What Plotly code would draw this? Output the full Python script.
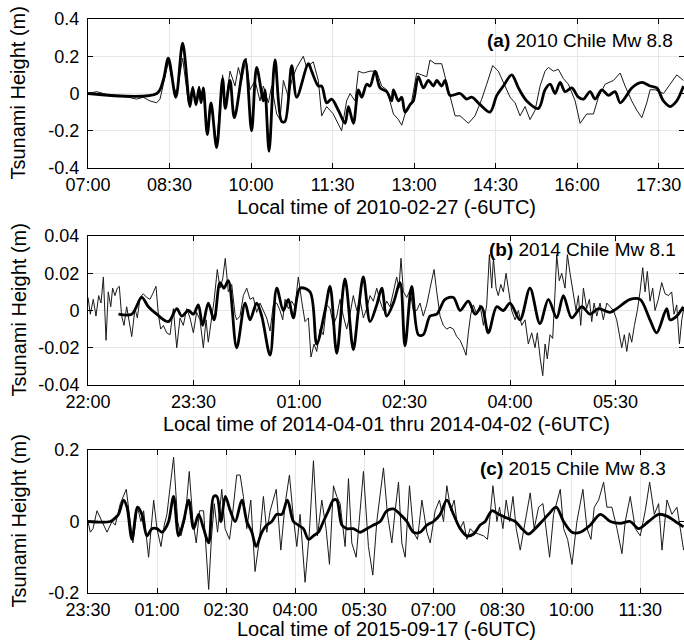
import pandas as pd
import plotly.graph_objects as go

# ---------------- data (minutes after start, height in m) ----------------
a_start = "2010-02-27 07:00"
a_thin_min = [0, 9.6, 16.9, 24.3, 35.3, 46.4, 53.7, 61.1, 68.5, 75.8, 79.5, 83.2, 88.7, 94.2, 97.9, 104.5, 110.8,
              115.6, 119.3, 122.6, 124.8, 127.3, 131.7, 135.8, 142, 148.6, 151.6, 156.8, 162.3, 166, 169.7, 174.5,
              178.9, 184.4, 189.9, 193.6, 199.1, 202.8, 208.3, 212, 215.7, 221.2, 224.9, 230.4, 237.7, 241.4, 248.7,
              254.3, 258, 263.5, 270.8, 280, 285.5, 289.3, 294.8, 298.5, 304, 311.4, 318.7, 324.2, 329.8, 337.2,
              342.7, 346.4, 350, 357.4, 362.9, 368.4, 373.9, 377.6, 383.1, 390.5, 394.2, 399.7, 405.3, 410.8, 420,
              427.3, 434.7, 440.2, 446.8, 453, 460.4, 466, 471.5, 477, 482.5, 488, 493.6, 499.1, 504.6, 508.3, 513.8,
              519.3, 524.8, 530.4, 537.8, 543.3, 550.6, 558, 563.5, 570.9, 580.1, 587.5, 593, 600.3, 605.9, 611.4,
              616.9, 620.6, 626.1, 635.3, 642.7, 650, 657.4]
a_thin_val = [0, 0.01, 0.0, -0.01, -0.01, -0.02, -0.03, -0.02, -0.04, -0.05, -0.03, 0.05, 0.17, 0.04, 0.0, 0.19, -0.05,
              0.04, -0.05, 0.04, -0.04, 0.02, -0.2, -0.06, -0.27, 0.1, -0.06, 0.12, 0.04, 0.14, 0.07, 0.19,
              0.02, 0.07, -0.04, 0.04, -0.05, 0.04, -0.11, -0.14, 0.07, -0.02, 0.07, 0.14, 0.2, 0.14, 0.17,
              0.07, -0.12, -0.07, -0.11, -0.2, -0.04, 0.0, -0.04, 0.12, 0.11, 0.12, 0.12, 0.04, 0.02, -0.11,
              -0.14, -0.17, -0.11, -0.04, 0.11, 0.1, 0.09, 0.18, 0.16, 0.16, 0.09, -0.03, -0.12, -0.12, -0.16,
              -0.12, -0.03, 0.05, 0.15, 0.12, 0.04, -0.02, -0.05, -0.12, -0.07, -0.14, -0.09, 0.04, 0.12, 0.14, 0.12,
              0.13, 0.08, 0.05, -0.04, -0.16, -0.11, -0.11, -0.02, 0.05, 0.07, 0.11, 0.04, -0.04, -0.09, -0.13,
              -0.05, 0.02, 0.02, 0.0, 0.05, 0.1, 0.07]
a_thick_min = [0, 76, 83, 88.7, 97, 104.5, 112.6, 115.6, 119.3, 122.6, 124.8, 127.3, 131.7, 135.8, 142, 148.6, 151.6,
               156.8, 161.6, 173.4, 180.6, 186.2, 193.6, 195.4, 199.9, 206.5, 213.8, 217.5, 224.9, 230.4, 243.3,
               246.9, 254.3, 258, 263.5, 269, 276.4, 283.8, 287.5, 293, 298.5, 302.2, 307.7, 311.4, 316.9, 322.4,
               329.8, 335.3, 337.2, 342.7, 346.4, 350, 355.6, 359.2, 364.7, 370.2, 375.8, 381.3, 385, 390.5, 394.2,
               399.7, 410.8, 418.1, 423.6, 432.9, 443.9, 451.3, 458.6, 467.8, 475.2, 484.4, 497.3, 504.6, 510.2,
               515.7, 521.2, 526.7, 534.1, 541.4, 547, 554.3, 559.9, 567.2, 574.6, 581.9, 587.5, 594.8, 600.3, 611.4,
               620.6, 628, 635.3, 642.7, 650, 657.4]
a_thick_val = [0, 0, 0.07, 0.19, -0.02, 0.27, -0.07, 0.03, -0.06, 0.03, -0.05, 0.03, -0.22, -0.05, -0.29, 0.08, -0.08,
               0.07, -0.13, 0.18, -0.2, 0.14, -0.04, 0.02, -0.31, 0.18, -0.15, -0.15, 0.15, -0.02, 0.16,
               0.12, 0.04, 0.04, -0.05, -0.03, -0.09, -0.16, -0.07, -0.16, 0.02, -0.02, 0.05, 0.04, 0.12, 0.03,
               0.01, -0.04, 0.02, -0.04, -0.02, -0.1, -0.06, -0.04, 0.09, 0.03, 0.07, 0.04, 0.07, 0.04, 0.07,
               -0.01, 0.0, -0.03, -0.02, -0.06, -0.1, -0.01, 0.04, 0.1, 0.03, -0.04, -0.08, 0.02, 0.05,
               0.0, 0.06, 0.01, 0.03, -0.02, -0.03, 0.01, -0.03, 0.02, -0.01, 0.01, -0.05, -0.01, 0.03, 0.06,
               0.04, 0.03, -0.04, -0.07, -0.04, 0.04]

b_start = "2014-04-01 22:00"
b_thin_min = [0, 2, 4.5, 6.8, 9.1, 11.1, 13.1, 15.4, 17.3, 19.4, 21, 23, 25, 26.7, 28.7, 30.7, 33, 35.3, 37.3, 40.1,
              42.1, 44.4, 47.2, 50.1, 52.9, 55.2, 58, 60, 62, 64.3, 67.1, 70, 72.8, 75.7, 78.5, 81.3, 84.2, 87, 89.9,
              92.7, 95.5, 98.4, 100.7, 102.6, 105.5, 107.5, 110.3, 112.6, 114.9, 117.1, 119.7, 122.6, 125.4, 126.8,
              129.7, 132.5, 135.4, 138.2, 141, 143.9, 146.7, 149.6, 152.4, 155.3, 158.1, 161, 163.8, 166.1, 168.1,
              170.9, 173.8, 176.6, 179.4, 182.3, 185.1, 188, 190.2, 192.8, 195.1, 197.9, 200.7, 203.6, 206.5, 209.3,
              212.2, 215, 217.8, 220.7, 223.5, 226.3, 229.2, 232, 234.9, 237.7, 240.6, 243.4, 246.3, 249.1, 252,
              254.8, 257.6, 260.5, 263.3, 265.3, 267, 269, 271.9, 274.7, 277.5, 280.4, 283.2, 286, 288.9, 291.8,
              295.2, 297.5, 300.3, 303.1, 306, 308.8, 311.7, 314.5, 317.4, 320.2, 322.5, 324.4, 326.5, 328.7, 331.6,
              334.4, 337.3, 340.1, 342.4, 344.4, 345.8, 348.1, 350, 352.1, 354.3, 356.6, 358.9, 361.4, 364.3, 367.1,
              370, 372.8, 375.6, 378.5, 381.3, 383.3, 385.6, 387.9, 389.9, 391.8, 394.1, 396.4, 398.4, 399.8, 402,
              404.1, 406.9, 408.9, 411.2, 414, 416.3, 418.3, 420.3, 422.6, 425.4, 427.7, 429.7, 431.7, 434, 436.8,
              439.6, 442.5, 445.3, 448.2, 451, 453.3, 455.3, 457.5, 459.6, 461.8, 463.8, 466.1, 468.6, 470.9, 473.2,
              475.2, 477.1, 479.4, 481.7, 483.7, 486.5, 489.4, 492.2, 495.1, 497.9, 499.9, 502.2, 504.5, 506.5, 508.4]
b_thin_val = [0.007, -0.002, 0.006, -0.003, 0.008, 0.004, 0.018, -0.016, 0.01, 0.002, 0.012, 0.008, 0.012, 0.013,
              -0.003, -0.008, 0.002, -0.008, -0.014, 0.001, -0.004, 0.007, 0.009, 0.007, 0.006, 0.009, 0.013, -0.002,
              -0.01, -0.008, -0.012, -0.013, 0.001, -0.02, -0.004, -0.008, 0.001, -0.004, -0.012, -0.001, -0.005,
              -0.02, -0.005, -0.017, -0.005, 0.005, 0.022, 0.012, 0.017, 0.028, 0.01, 0.014, -0.002, -0.005,
              -0.003, 0.008, 0.012, 0.006, 0.007, -0.001, 0.004, 0.0, -0.004, -0.011, 0.003, 0.004, 0.0, -0.005, 0.006,
              0.001, 0.005, 0.002, 0.018, 0.005, -0.006, -0.004, -0.025, -0.018, -0.022, -0.01, -0.013, 0.003, 0.001,
              -0.008, -0.003, 0.006, -0.003, -0.01, -0.002, 0.008, 0.0, 0.006, -0.004, 0.001, 0.008, 0.005, 0.012,
              0.005, 0.0, 0.005, 0.002, 0.01, 0.018, 0.012, 0.028, 0.01, 0.007, 0.011, 0.0, 0.0, 0.004, -0.003, 0.003,
              0.012, 0.022, 0.01, -0.003, -0.008, -0.01, -0.009, -0.01, -0.014, -0.016, -0.02, -0.024, -0.012,
              -0.002, 0.003, -0.002, 0.003, -0.008, 0.003, 0.03, 0.012, 0.028, 0.012, 0.008, 0.014, 0.01, 0.02, 0.01,
              0.0, -0.005, 0.0, -0.008, -0.005, -0.018, -0.012, -0.02, -0.012, -0.025, -0.035, -0.018, -0.026,
              -0.013, -0.015, 0.01, 0.03, 0.016, 0.02, 0.012, 0.03, 0.02, 0.01, 0.0, 0.008, -0.008, 0.012, 0.001,
              0.006, -0.006, 0.004, -0.003, 0.004, -0.005, 0.004, 0.002, 0.0, -0.005, -0.012, -0.02, -0.013, -0.022,
              -0.012, -0.017, -0.008, 0.0, 0.01, 0.023, 0.01, 0.021, 0.005, 0.012, 0.0, 0.006, 0.015, 0.009, 0.008,
              0.01, -0.002, 0.003, -0.018, -0.005, 0.002]
b_thick_min = [26, 37.3, 45.8, 51.5, 58.6, 68.5, 75.7, 79.9, 85.6, 89.9, 94.1, 97.8, 102.6, 107.5, 112.6, 116,
               119.7, 126.8, 134, 138.2, 143.9, 148.2, 155.3, 161, 166.6, 170.9, 175.1, 180.9, 189.4, 195.1, 202.2,
               206.5, 212.2, 219.2, 226.3, 230.6, 234.9, 240.6, 246.3, 250.6, 254.8, 260.5, 266.2, 270.4, 276.1,
               281.8, 286, 291.8, 297.5, 304.6, 311.7, 317.4, 324.4, 330.2, 335.8, 341.5, 348.6, 354.3, 360, 368.5,
               377, 385.5, 392.7, 399.8, 405.5, 412.6, 421.2, 428.3, 435.4, 445.3, 451, 462.4, 470.9, 479.4, 485.1,
               493.6, 496.5, 502.2, 507.8]
b_thick_val = [-0.002, -0.002, 0.007, 0.002, -0.002, -0.006, 0.001, -0.003, 0.0, -0.002, 0.003, -0.008, 0.004,
               -0.005, 0.015, 0.012, 0.016, -0.02, 0.004, -0.005, 0.004, -0.003, -0.024, 0.012, 0.0, 0.006, -0.004,
               0.012, 0.01, -0.018, 0.0, 0.013, -0.023, 0.017, -0.021, 0.0, 0.018, -0.006, 0.003, 0.012, -0.003,
               0.004, 0.015, -0.019, 0.013, -0.013, -0.013, -0.003, -0.002, 0.006, 0.007, 0.0, 0.005, -0.002, 0.002,
               -0.012, 0.002, 0.0, 0.004, -0.005, 0.012, -0.007, 0.006, -0.004, 0.008, -0.004, 0.002, -0.002, 0.001,
               -0.001, 0.001, 0.006, 0.006, -0.005, -0.012, 0.001, -0.005, -0.003, 0.002]

c_start = "2015-09-16 23:30"
c_thin_min = [0, 3, 6.5, 11.7, 18.3, 24.8, 31.3, 35.5, 42.1, 49.9, 55.1, 58.6, 64.6, 69, 72.5, 79, 85.6, 89.9, 95.1,
              99.4, 102.9, 106.3, 111.6, 116.9, 121.2, 126.8, 132, 136.8, 141.1, 145.4, 150.7, 157.3, 160.8, 164.6,
              168.9, 174.4, 178.7, 184.5, 187.4, 193.9, 198.3, 202.6, 207, 212.2, 217.8, 223.5, 228.7, 233.1, 237.5,
              245.4, 251.4, 257, 262.6, 267.8, 272.2, 276.5, 283, 288.6, 293.9, 299.2, 304.8, 310.4, 314.8, 320,
              324.3, 328.7, 335.2, 339.6, 343.9, 349.6, 354.8, 359.1, 365.6, 371.3, 376.5, 385.2, 390.4, 396.1,
              400.4, 404.8, 409.1, 413.5, 419.1, 424.3, 429.6, 435.3, 441.8, 446.1, 452.6, 458.2, 463.5, 467.8,
              473.1, 477.4, 480.9, 485.2, 489.6, 493.9, 498.3, 502.6, 509.1, 515.6, 520.8, 523.5, 527.9, 533.1,
              536.5, 540.9, 545.2, 549.6, 554, 558.3, 563.5, 570, 576.5, 581.7, 587.4, 593.1, 598.3, 601.8, 607,
              611.4, 615.7, 620.1, 625.3, 631, 637.4, 645.2, 650.5, 655.7, 660, 665.7, 672.2, 676.5, 683, 689.6,
              696.1, 700.4, 706.9, 713.5, 720, 726.5, 732.2, 738.3, 743.9, 748.3, 754.8, 761.3, 767.8, 772.2, 776.5]
c_thin_val = [0.0, -0.03, -0.02, 0.03, 0.0, -0.03, 0.0, -0.01, 0.05, 0.09, 0.0, -0.06, 0.04, 0.0, 0.03, -0.1, 0.06,
              -0.02, -0.07, -0.01, 0.02, 0.08, 0.18, 0.0, -0.04, 0.01, 0.14, 0.0, -0.06, 0.03, 0.03, -0.19, -0.05,
              0.05, -0.03, 0.09, -0.02, -0.05, 0.0, 0.13, 0.13, 0.07, -0.02, 0.06, -0.14, -0.05, 0.07, -0.03, 0.03,
              0.09, -0.08, 0.05, 0.13, 0.01, -0.07, 0.02, -0.17, -0.03, 0.17, -0.04, 0.06, -0.02, -0.12, 0.1,
              0.07, 0.05, -0.07, 0.12, -0.06, -0.1, 0.04, 0.14, -0.07, -0.15, 0.0, 0.15, 0.02, -0.06,
              0.03, 0.11, -0.06, -0.1, 0.1, -0.03, -0.05, 0.06, -0.03, -0.06, 0.03, 0.06, 0.0, 0.1,
              0.03, 0.06, 0.0, -0.02, 0.0, -0.05, -0.02, -0.03, -0.035, -0.04, -0.05, 0.0, 0.1, 0.0,
              0.04, -0.02, 0.06, 0.0, 0.07, -0.02, -0.08, 0.0, 0.08, -0.02, 0.04, 0.05, -0.04, -0.1, 0.02,
              0.06, 0.09, -0.02, -0.05, -0.12, 0.0, 0.09, -0.02, -0.05, 0.04, 0.06, 0.11, 0.04, 0.04, -0.02,
              -0.09, 0.0, 0.07, -0.02, -0.04, 0.03, 0.11, 0.02, 0.05, -0.08, 0.06, 0.02, 0.04, -0.02, -0.08]
c_thick_min = [0, 29, 35.5, 39.8, 46.4, 50.8, 57.3, 64.6, 70.3, 76.8, 83.3, 89.9, 96.4, 100.7, 105.1, 111.6, 118.1,
               124.6, 131.2, 137.7, 144.2, 150.7, 157.3, 163.8, 168.1, 173.3, 179, 185.5, 192, 200.6, 207.1, 213.6,
               219.2, 226.6, 233.1, 239.6, 246.1, 252.7, 260, 267.8, 274.3, 280.8, 287.4, 293.9, 300.4, 306.9, 313.4,
               320, 324.3, 330.9, 337.4, 346, 354.8, 363.5, 372.2, 380.9, 389.6, 398.2, 407, 415.7, 424.3, 433,
               441.8, 450.4, 459.1, 467.8, 476.5, 485.2, 493.9, 502.6, 511.3, 517.8, 526.5, 535.2, 546.1, 557, 565.6,
               574.3, 583, 591.8, 600.4, 610.4, 620, 630.9, 641.7, 654.8, 667.8, 680.9, 693.9, 706.9, 717.8, 730.8,
               743.9, 754.8, 765.7, 776.5]
c_thick_val = [0.0, 0.0, 0.01, 0.02, 0.06, 0.04, -0.05, 0.04, 0.02, -0.04, -0.02, -0.02, -0.03, -0.02, 0.0, 0.07,
               -0.04, 0.0, 0.06, -0.02, 0.02, -0.02, -0.06, 0.07, 0.07, 0.0, 0.07, 0.03, 0.0, 0.06, 0.0, -0.03,
               -0.07, -0.03, -0.01, 0.0, 0.02, 0.02, 0.06, 0.0, -0.01, -0.02, -0.05, -0.04, -0.03, 0.0, 0.03,
               0.06, 0.06, -0.01, -0.02, -0.02, -0.03, -0.02, -0.01, 0.0, 0.03, 0.035, 0.02, 0.0, -0.03, -0.03,
               -0.01, 0.0, 0.02, 0.06, 0.02, -0.02, -0.04, -0.035, -0.01, 0.0, 0.03, 0.02, 0.01, 0.0, -0.02,
               -0.035, -0.02, 0.0, 0.02, 0.04, 0.0, -0.03, -0.03, -0.01, 0.02, 0.0, -0.005, 0.0, -0.02, 0.0,
               0.02, 0.015, 0.0, -0.015]

# axis extents (minutes shown) and tick labels
a_span, b_span, c_span = 658, 508.4, 777
a_yticks, a_ytext = [-0.4, -0.2, 0, 0.2, 0.4], ["-0.4", "-0.2", "0", "0.2", "0.4"]
b_yticks, b_ytext = [-0.04, -0.02, 0, 0.02, 0.04], ["-0.04", "-0.02", "0", "0.02", "0.04"]
c_yticks, c_ytext = [-0.2, 0, 0.2], ["-0.2", "0", "0.2"]
a_xtitle = "Local time of 2010-02-27 (-6UTC)"
b_xtitle = "Local time of 2014-04-01 thru 2014-04-02 (-6UTC)"
c_xtitle = "Local time of 2015-09-17 (-6UTC)"
a_label = "<b>(a)</b> 2010 Chile Mw 8.8"
b_label = "<b>(b)</b> 2014 Chile Mw 8.1"
c_label = "<b>(c)</b> 2015 Chile Mw 8.3"
ytitle = "Tsunami Height (m)"


def to_time(start, mins):
    t0 = pd.Timestamp(start)
    return [t0 + pd.Timedelta(minutes=m) for m in mins]


W, H = 684, 642
FONT = "Liberation Sans, Arial, Helvetica, sans-serif"
fig = go.Figure()

panels = [
    (a_start, a_thin_min, a_thin_val, a_thick_min, a_thick_val, a_span, [-0.4, 0.4], a_yticks, a_ytext, 19, 168),
    (b_start, b_thin_min, b_thin_val, b_thick_min, b_thick_val, b_span, [-0.04, 0.04], b_yticks, b_ytext, 236, 385),
    (c_start, c_thin_min, c_thin_val, c_thick_min, c_thick_val, c_span, [-0.2, 0.2], c_yticks, c_ytext, 450, 593),
]

layout = dict(width=W, height=H, margin=dict(l=0, r=0, t=0, b=0, autoexpand=False), plot_bgcolor="white",
              paper_bgcolor="white", showlegend=False, template="none",
              font=dict(family=FONT, color="black"))

for i, (st, tmin, tval, kmin, kval, span, yr, yt, ytt, top, bot) in enumerate(panels):
    n = "" if i == 0 else str(i + 1)
    fig.add_trace(go.Scatter(x=to_time(st, tmin), y=tval, mode="lines",
                             line=dict(color="#1a1a1a", width=1), xaxis="x" + n, yaxis="y" + n))
    fig.add_trace(go.Scatter(x=to_time(st, kmin), y=kval, mode="lines",
                             line=dict(color="black", width=2.8, shape="spline", smoothing=0.9),
                             xaxis="x" + n, yaxis="y" + n))
    t0 = pd.Timestamp(st)
    layout["xaxis" + n] = dict(
        type="date", domain=[88 / W, 1.0], anchor="y" + n, automargin=False,
        range=[t0, t0 + pd.Timedelta(minutes=span)], tick0=t0, dtick=90 * 60 * 1000,
        tickformat="%H:%M", ticks="inside", ticklen=5, tickcolor="black",
        showline=True, linecolor="black", linewidth=1, mirror="ticks",
        showgrid=True, gridcolor="#e6e6e6", gridwidth=1, zeroline=False,
        tickfont=dict(size=18, family=FONT, color="black"))
    layout["yaxis" + n] = dict(
        domain=[1 - bot / H, 1 - top / H], anchor="x" + n, range=yr, automargin=False,
        tickvals=yt, ticktext=ytt, ticks="inside", ticklen=5, tickcolor="black",
        showline=True, linecolor="black", linewidth=1, mirror="ticks", ticklabelstandoff=4,
        showgrid=True, gridcolor="#e6e6e6", gridwidth=1, zeroline=False,
        tickfont=dict(size=18, family=FONT, color="black"))

ann = []
for lab, xr, yc in [(a_label, 675, 41), (b_label, 678, 250), (c_label, 668, 468)]:
    ann.append(dict(text=lab, xref="paper", yref="paper", x=xr / W, y=1 - yc / H, xanchor="right",
                    yanchor="middle", showarrow=False, font=dict(size=19, family=FONT, color="black")))
for tt, yc in [(a_xtitle, 207), (b_xtitle, 424), (c_xtitle, 629)]:
    ann.append(dict(text=tt, xref="paper", yref="paper", x=(88 + 684) / 2 / W, y=1 - yc / H, xanchor="center",
                    yanchor="middle", showarrow=False, font=dict(size=20, family=FONT, color="black")))
for yc in [(19 + 168) / 2, (236 + 385) / 2, (450 + 593) / 2]:
    ann.append(dict(text=ytitle, xref="paper", yref="paper", x=18 / W, y=1 - yc / H, xanchor="center",
                    yanchor="middle", textangle=-90, showarrow=False,
                    font=dict(size=20, family=FONT, color="black")))
layout["annotations"] = ann

fig.update_layout(**layout)
fig.write_html("out.html", config={"displayModeBar": False},
               post_script="document.body.style.margin='0';document.body.style.padding='0';"
                           "document.body.style.overflow='hidden';")
